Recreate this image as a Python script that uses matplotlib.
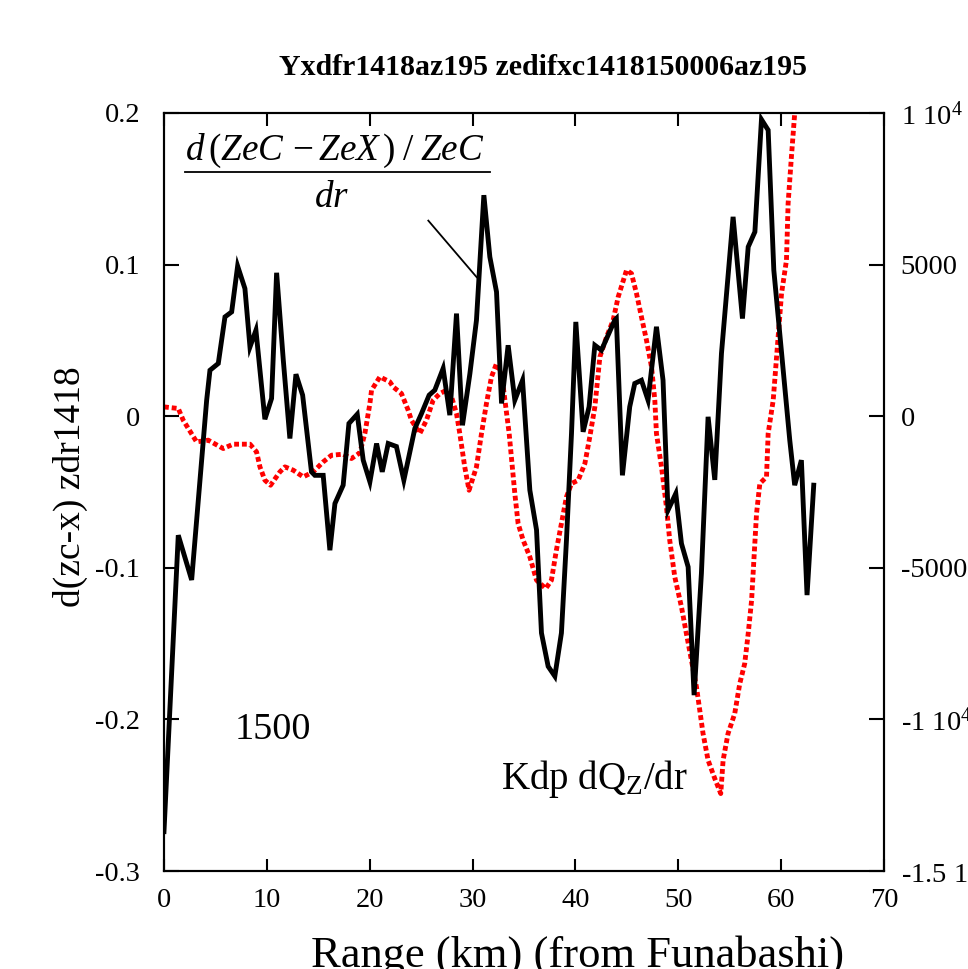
import matplotlib
matplotlib.use("Agg")
import matplotlib.pyplot as plt

plt.rcParams['font.family'] = ['Liberation Serif', 'DejaVu Serif']
plt.rcParams['mathtext.fontset'] = 'custom'
plt.rcParams['mathtext.rm'] = 'Liberation Serif'
plt.rcParams['mathtext.it'] = 'Liberation Serif:italic'

# black line: d(zc-x) zdr1418 (left axis)
r_zdr = [0.0, 1.39, 2.69, 4.15, 4.47, 5.28, 5.93, 6.58, 7.16, 7.87, 8.36, 8.94,
         9.81, 10.46, 10.95, 11.6, 12.24, 12.83, 13.48, 14.34, 14.67, 15.48,
         16.13, 16.62, 17.42, 17.98, 18.79, 19.37, 20.02, 20.67, 21.22, 21.8,
         22.6, 23.32, 24.39, 25.04, 25.78, 26.33, 27.14, 27.79, 28.44, 29.02,
         29.74, 30.38, 31.1, 31.68, 32.33, 32.82, 33.46, 34.11, 34.86, 35.57,
         36.22, 36.7, 37.35, 38.0, 38.64, 39.13, 39.62, 40.04, 40.75, 41.33,
         41.89, 42.53, 43.82, 43.98, 44.57, 45.28, 45.77, 46.42, 47.06, 47.88,
         48.52, 49.0, 49.76, 50.31, 50.96, 51.54, 52.25, 52.9, 53.55, 54.2,
         55.33, 56.24, 56.8, 57.45, 58.09, 58.74, 59.29, 60.84, 61.32, 61.97,
         62.52, 63.17]
zdr = [-0.274, -0.0785, -0.108, 0.0106, 0.0303, 0.0348, 0.0655, 0.0688, 0.099,
       0.0842, 0.0457, 0.0567, -0.002, 0.0117, 0.0946, 0.037, -0.0147, 0.0277,
       0.0139, -0.0367, -0.039, -0.039, -0.0884, -0.0576, -0.0455, -0.0048,
       0.0013, -0.029, -0.0433, -0.018, -0.0367, -0.018, -0.020, -0.0422,
       -0.0081, 0.0018, 0.0139, 0.0172, 0.0315, 0.0007, 0.0677, -0.006, 0.028,
       0.0633, 0.1458, 0.1051, 0.082, 0.0084, 0.0468, 0.0106, 0.0237, -0.0488,
       -0.075, -0.143, -0.165, -0.1715, -0.143, -0.0818, -0.0114, 0.0622,
       -0.0103, 0.0062, 0.0468, 0.0435, 0.0633, 0.0644, -0.039, 0.0062, 0.0216,
       0.0237, 0.0106, 0.059, 0.0237, -0.062, -0.051, -0.084, -0.0994, -0.184,
       -0.1037, -0.0004, -0.042, 0.0414, 0.1315, 0.0644, 0.1117, 0.1216,
       0.1957, 0.1887, 0.0963, -0.0158, -0.0455, -0.029, -0.118, -0.0455]

# red dotted line: Kdp dQz/dr (right axis)
r_kdp = [0.0, 1.39, 1.87, 3.17, 4.3, 5.76, 6.73, 8.36, 9.0, 9.33, 9.81, 10.36,
         11.27, 11.76, 12.57, 13.54, 14.51, 15.48, 16.29, 17.42, 18.23, 19.04,
         19.53, 20.02, 20.18, 20.99, 21.96, 22.28, 23.09, 23.74, 24.06, 24.87,
         25.52, 26.17, 26.82, 27.47, 27.96, 28.44, 28.76, 29.24, 29.66, 30.38,
         30.87, 31.35, 31.84, 32.33, 32.82, 33.23, 33.56, 34.11, 34.43, 34.92,
         35.57, 36.22, 37.12, 37.67, 38.15, 38.64, 39.13, 39.62, 40.27, 40.92,
         41.4, 41.89, 42.38, 43.03, 43.67, 44.16, 44.97, 45.45, 45.94, 46.42,
         46.91, 47.4, 47.72, 47.88, 48.37, 48.85, 49.17, 49.66, 50.31, 50.79,
         51.28, 51.77, 52.09, 52.41, 52.9, 53.55, 54.13, 54.36, 54.84, 55.49,
         55.98, 56.46, 56.8, 57.13, 57.35, 57.61, 57.93, 58.58, 58.74, 59.23,
         60.04, 60.52, 60.68, 61.0, 61.32, 61.6]
kdp = [307, 254, -132, -847, -790, -1066, -923, -923, -1177, -1671, -2111,
       -2276, -1836, -1671, -1781, -2001, -1836, -1506, -1286, -1253, -1396,
       -1209, -572, 418, 857, 1297, 1132, 967, 747, 198, -132, -572, -132, 528,
       747, 857, 638, 88, -572, -1671, -2441, -1671, -572, 418, 1297, 1737,
       1407, 307, -572, -2551, -3540, -4090, -4640, -5409, -5683, -5409, -4420,
       -3540, -2661, -2221, -2111, -1561, -682, 307, 1956, 2616, 3166, 3935,
       4815, 4706, 4046, 3276, 2507, 1627, 528, -572, -1671, -2991, -4090,
       -5300, -6289, -7169, -8049, -8928, -9697, -10467, -11346, -11951,
       -12445, -11346, -10467, -9807, -8818, -8158, -7169, -6070, -4750,
       -3210, -2221, -2001, -572, 528, 4046, 5145, 7016, 8553, 9983, 11000]

left_ticks = [-0.3, -0.2, -0.1, 0, 0.1, 0.2]
left_labels = ['-0.3', '-0.2', '-0.1', '0', '0.1', '0.2']
right_ticks = [-15000, -10000, -5000, 0, 5000, 10000]
right_labels = ['-1.5 10$^4$', '-1 10$^4$', '-5000', '0', '5000', '1 10$^4$']
x_ticks = [0, 10, 20, 30, 40, 50, 60, 70]

fig = plt.figure(figsize=(9.68, 9.69), dpi=100)
ax = fig.add_axes([0.1694, 0.1011, 0.7438, 0.7823])
ax2 = ax.twinx()

ax.plot(r_zdr, zdr, color='black', lw=3.5, solid_joinstyle='miter', zorder=3)
ax2.plot(r_kdp, kdp, color='#ff0000', lw=3.5, linestyle=(0, (1.0, 0.6)))
ax.set_zorder(ax2.get_zorder() + 1)
ax.patch.set_visible(False)

ax.set_xlim(0, 70)
ax.set_ylim(-0.3, 0.2)
ax2.set_ylim(-15000, 10000)

ax.set_xticks(x_ticks)
ax.set_yticks(left_ticks)
ax.set_yticklabels(left_labels)
ax2.set_yticks(right_ticks)
ax2.set_yticklabels(right_labels)

ax.tick_params(axis='x', direction='in', length=9, width=1.5, top=True,
               labelsize=20.5, pad=12)
ax.tick_params(axis='y', direction='in', length=11, width=1.5, labelsize=20.5, pad=17)
ax2.tick_params(axis='y', direction='in', length=11, width=1.5, labelsize=20.5, pad=12)
for a in (ax, ax2):
    for s in a.spines.values():
        s.set_linewidth(1.5)

ax.set_xlabel('Range (km) (from Funabashi)', fontsize=32)
ax.xaxis.set_label_coords(0.574, -0.085)
ax.set_ylabel('d(zc-x) zdr1418', fontsize=27)
ax.yaxis.set_label_coords(-0.106, 0.507)
fig.text(0.561, 0.93, 'Yxdfr1418az195 zedifxc1418150006az195', ha='center',
         va='center', fontsize=21.5, fontweight='bold')

ax.text(16.6, 0.1689, r'$d\,(ZeC\,-ZeX\,)\;/\;ZeC$', fontsize=26.7, ha='center', va='baseline')
ax.plot([2.04, 31.7], [0.161, 0.161], color='black', lw=1.3)
ax.text(16.3, 0.1379, r'$dr$', fontsize=26.7, ha='center', va='baseline')
ax.plot([25.7, 30.4], [0.129, 0.0917], color='black', lw=1.3)
ax.text(10.6, -0.207, '1500', fontsize=27.5, ha='center', va='center')
ax.text(32.8, -0.2395, r'Kdp dQ$_{\mathrm{Z}}$/dr', fontsize=28, ha='left', va='center')

fig.savefig('out.png', dpi=100)
